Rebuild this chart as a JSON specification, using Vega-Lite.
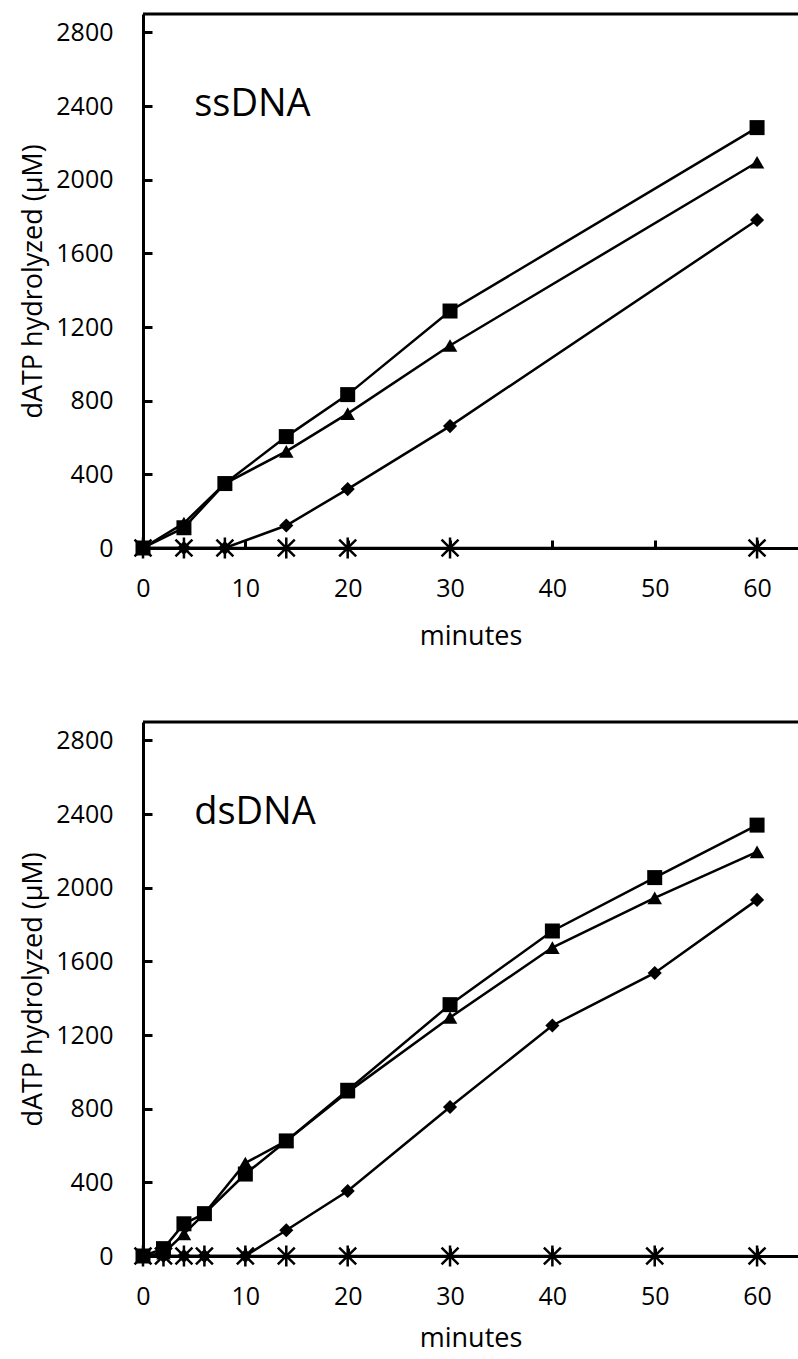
{
  "$schema": "https://vega.github.io/schema/vega-lite/v6.json",
  "background": "white",
  "padding": {"left": 19, "top": 12, "right": 0, "bottom": 0},
  "spacing": 71,
  "config": {
    "view": {"stroke": null},
    "font": "Open Sans",
    "axis": {
      "grid": false,
      "domainColor": "black",
      "domainWidth": 3,
      "tickColor": "black",
      "tickWidth": 3,
      "labelFontSize": 25,
      "labelColor": "black",
      "labelFlush": false,
      "labelOverlap": false,
      "titleFontSize": 27,
      "titleFontWeight": "normal",
      "titleColor": "black",
      "format": "d"
    },
    "axisX": {"tickSize": -8, "labelPadding": 36, "titlePadding": 22},
    "axisY": {"tickSize": -9, "labelPadding": 39, "titlePadding": 8}
  },
  "datasets": {
    "d": [
      {"panel": "ssDNA", "series": "sq", "t": 0, "v": 0},
      {"panel": "ssDNA", "series": "sq", "t": 4, "v": 110},
      {"panel": "ssDNA", "series": "sq", "t": 8, "v": 350},
      {"panel": "ssDNA", "series": "sq", "t": 14, "v": 605},
      {"panel": "ssDNA", "series": "sq", "t": 20, "v": 833},
      {"panel": "ssDNA", "series": "sq", "t": 30, "v": 1287},
      {"panel": "ssDNA", "series": "sq", "t": 60, "v": 2283},
      {"panel": "ssDNA", "series": "tri", "t": 0, "v": 0},
      {"panel": "ssDNA", "series": "tri", "t": 4, "v": 135},
      {"panel": "ssDNA", "series": "tri", "t": 8, "v": 350},
      {"panel": "ssDNA", "series": "tri", "t": 14, "v": 525},
      {"panel": "ssDNA", "series": "tri", "t": 20, "v": 730},
      {"panel": "ssDNA", "series": "tri", "t": 30, "v": 1100},
      {"panel": "ssDNA", "series": "tri", "t": 60, "v": 2095},
      {"panel": "ssDNA", "series": "dia", "t": 0, "v": 0},
      {"panel": "ssDNA", "series": "dia", "t": 4, "v": 0},
      {"panel": "ssDNA", "series": "dia", "t": 8, "v": 0},
      {"panel": "ssDNA", "series": "dia", "t": 14, "v": 122},
      {"panel": "ssDNA", "series": "dia", "t": 20, "v": 320},
      {"panel": "ssDNA", "series": "dia", "t": 30, "v": 662},
      {"panel": "ssDNA", "series": "dia", "t": 60, "v": 1781},
      {"panel": "ssDNA", "series": "star", "t": 0, "v": 0},
      {"panel": "ssDNA", "series": "star", "t": 4, "v": 0},
      {"panel": "ssDNA", "series": "star", "t": 8, "v": 0},
      {"panel": "ssDNA", "series": "star", "t": 14, "v": 0},
      {"panel": "ssDNA", "series": "star", "t": 20, "v": 0},
      {"panel": "ssDNA", "series": "star", "t": 30, "v": 0},
      {"panel": "ssDNA", "series": "star", "t": 60, "v": 0},
      {"panel": "dsDNA", "series": "sq", "t": 0, "v": 0},
      {"panel": "dsDNA", "series": "sq", "t": 2, "v": 40},
      {"panel": "dsDNA", "series": "sq", "t": 4, "v": 175},
      {"panel": "dsDNA", "series": "sq", "t": 6, "v": 230},
      {"panel": "dsDNA", "series": "sq", "t": 10, "v": 445},
      {"panel": "dsDNA", "series": "sq", "t": 14, "v": 625},
      {"panel": "dsDNA", "series": "sq", "t": 20, "v": 900},
      {"panel": "dsDNA", "series": "sq", "t": 30, "v": 1365},
      {"panel": "dsDNA", "series": "sq", "t": 40, "v": 1765},
      {"panel": "dsDNA", "series": "sq", "t": 50, "v": 2055},
      {"panel": "dsDNA", "series": "sq", "t": 60, "v": 2340},
      {"panel": "dsDNA", "series": "tri", "t": 0, "v": 0},
      {"panel": "dsDNA", "series": "tri", "t": 2, "v": 15},
      {"panel": "dsDNA", "series": "tri", "t": 4, "v": 120},
      {"panel": "dsDNA", "series": "tri", "t": 6, "v": 230},
      {"panel": "dsDNA", "series": "tri", "t": 10, "v": 505},
      {"panel": "dsDNA", "series": "tri", "t": 14, "v": 625},
      {"panel": "dsDNA", "series": "tri", "t": 20, "v": 890},
      {"panel": "dsDNA", "series": "tri", "t": 30, "v": 1295},
      {"panel": "dsDNA", "series": "tri", "t": 40, "v": 1675},
      {"panel": "dsDNA", "series": "tri", "t": 50, "v": 1945},
      {"panel": "dsDNA", "series": "tri", "t": 60, "v": 2195},
      {"panel": "dsDNA", "series": "dia", "t": 0, "v": 0},
      {"panel": "dsDNA", "series": "dia", "t": 2, "v": 0},
      {"panel": "dsDNA", "series": "dia", "t": 4, "v": 0},
      {"panel": "dsDNA", "series": "dia", "t": 6, "v": 0},
      {"panel": "dsDNA", "series": "dia", "t": 10, "v": 0},
      {"panel": "dsDNA", "series": "dia", "t": 14, "v": 140},
      {"panel": "dsDNA", "series": "dia", "t": 20, "v": 353},
      {"panel": "dsDNA", "series": "dia", "t": 30, "v": 809},
      {"panel": "dsDNA", "series": "dia", "t": 40, "v": 1252},
      {"panel": "dsDNA", "series": "dia", "t": 50, "v": 1537},
      {"panel": "dsDNA", "series": "dia", "t": 60, "v": 1934},
      {"panel": "dsDNA", "series": "star", "t": 0, "v": 0},
      {"panel": "dsDNA", "series": "star", "t": 2, "v": 0},
      {"panel": "dsDNA", "series": "star", "t": 4, "v": 0},
      {"panel": "dsDNA", "series": "star", "t": 6, "v": 0},
      {"panel": "dsDNA", "series": "star", "t": 10, "v": 0},
      {"panel": "dsDNA", "series": "star", "t": 14, "v": 0},
      {"panel": "dsDNA", "series": "star", "t": 20, "v": 0},
      {"panel": "dsDNA", "series": "star", "t": 30, "v": 0},
      {"panel": "dsDNA", "series": "star", "t": 40, "v": 0},
      {"panel": "dsDNA", "series": "star", "t": 50, "v": 0},
      {"panel": "dsDNA", "series": "star", "t": 60, "v": 0}
    ],
    "labels": [
      {"panel": "ssDNA", "label": "ssDNA"},
      {"panel": "dsDNA", "label": "dsDNA"}
    ]
  },
  "vconcat": [
    {
      "width": 655,
      "height": 534,
      "layer": [
        {
          "data": {"name": "d"},
          "transform": [{"filter": "datum.panel === 'ssDNA'"}],
          "mark": {"type": "line", "color": "black", "strokeWidth": 2.5},
          "encoding": {
            "x": {"field": "t", "type": "quantitative", "scale": {"domain": [0, 64], "nice": false}, "axis": {"values": [0, 10, 20, 30, 40, 50, 60], "title": "minutes"}},
            "y": {"field": "v", "type": "quantitative", "scale": {"domain": [0, 2900], "nice": false}, "axis": {"values": [0, 400, 800, 1200, 1600, 2000, 2400, 2800], "title": "dATP hydrolyzed (µM)"}},
            "detail": {"field": "series"},
            "order": {"field": "t"}
          }
        },
        {
          "data": {"name": "d"},
          "transform": [{"filter": "datum.panel === 'ssDNA' && datum.series !== 'star'"}],
          "mark": {"type": "point", "filled": true, "color": "black", "opacity": 1},
          "encoding": {
            "x": {"field": "t", "type": "quantitative"},
            "y": {"field": "v", "type": "quantitative"},
            "shape": {"field": "series", "scale": {"domain": ["sq", "tri", "dia"], "range": ["square", "triangle-up", "diamond"]}, "legend": null},
            "size": {"field": "series", "scale": {"domain": ["sq", "tri", "dia"], "range": [225, 200, 150]}, "legend": null}
          }
        },
        {
          "data": {"name": "d"},
          "transform": [{"filter": "datum.panel === 'ssDNA' && datum.series === 'star'"}],
          "mark": {"type": "point", "shape": "M-0.8,-0.8L0.8,0.8M-0.8,0.8L0.8,-0.8M0,-1L0,1", "filled": false, "color": "black", "strokeWidth": 2.5, "size": 450, "opacity": 1},
          "encoding": {
            "x": {"field": "t", "type": "quantitative"},
            "y": {"field": "v", "type": "quantitative"}
          }
        },
        {
          "data": {"values": [{"top": 2900}]},
          "mark": {"type": "rule", "color": "black", "strokeWidth": 3},
          "encoding": {"y": {"field": "top", "type": "quantitative"}}
        },
        {
          "data": {"name": "labels"},
          "transform": [{"filter": "datum.panel === 'ssDNA'"}],
          "mark": {"type": "text", "fontSize": 38, "align": "left", "baseline": "alphabetic", "color": "black"},
          "encoding": {"text": {"field": "label"}, "x": {"datum": 5}, "y": {"datum": 2345}}
        }
      ]
    },
    {
      "width": 655,
      "height": 534,
      "layer": [
        {
          "data": {"name": "d"},
          "transform": [{"filter": "datum.panel === 'dsDNA'"}],
          "mark": {"type": "line", "color": "black", "strokeWidth": 2.5},
          "encoding": {
            "x": {"field": "t", "type": "quantitative", "scale": {"domain": [0, 64], "nice": false}, "axis": {"values": [0, 10, 20, 30, 40, 50, 60], "title": "minutes", "titlePadding": 16}},
            "y": {"field": "v", "type": "quantitative", "scale": {"domain": [0, 2900], "nice": false}, "axis": {"values": [0, 400, 800, 1200, 1600, 2000, 2400, 2800], "title": "dATP hydrolyzed (µM)"}},
            "detail": {"field": "series"},
            "order": {"field": "t"}
          }
        },
        {
          "data": {"name": "d"},
          "transform": [{"filter": "datum.panel === 'dsDNA' && datum.series !== 'star'"}],
          "mark": {"type": "point", "filled": true, "color": "black", "opacity": 1},
          "encoding": {
            "x": {"field": "t", "type": "quantitative"},
            "y": {"field": "v", "type": "quantitative"},
            "shape": {"field": "series", "scale": {"domain": ["sq", "tri", "dia"], "range": ["square", "triangle-up", "diamond"]}, "legend": null},
            "size": {"field": "series", "scale": {"domain": ["sq", "tri", "dia"], "range": [225, 200, 150]}, "legend": null}
          }
        },
        {
          "data": {"name": "d"},
          "transform": [{"filter": "datum.panel === 'dsDNA' && datum.series === 'star'"}],
          "mark": {"type": "point", "shape": "M-0.8,-0.8L0.8,0.8M-0.8,0.8L0.8,-0.8M0,-1L0,1", "filled": false, "color": "black", "strokeWidth": 2.5, "size": 450, "opacity": 1},
          "encoding": {
            "x": {"field": "t", "type": "quantitative"},
            "y": {"field": "v", "type": "quantitative"}
          }
        },
        {
          "data": {"values": [{"top": 2900}]},
          "mark": {"type": "rule", "color": "black", "strokeWidth": 3},
          "encoding": {"y": {"field": "top", "type": "quantitative"}}
        },
        {
          "data": {"name": "labels"},
          "transform": [{"filter": "datum.panel === 'dsDNA'"}],
          "mark": {"type": "text", "fontSize": 38, "align": "left", "baseline": "alphabetic", "color": "black"},
          "encoding": {"text": {"field": "label"}, "x": {"datum": 5}, "y": {"datum": 2345}}
        }
      ]
    }
  ]
}
